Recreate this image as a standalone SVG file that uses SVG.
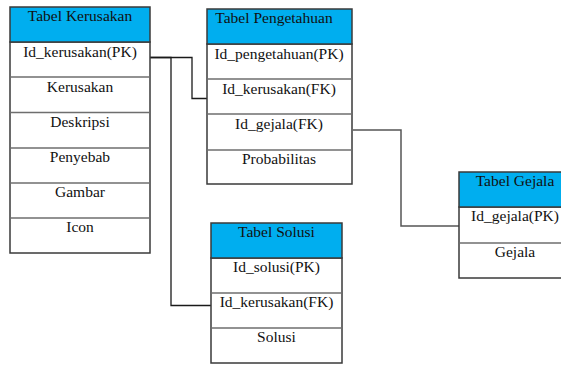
<svg xmlns="http://www.w3.org/2000/svg" width="561" height="365" viewBox="0 0 561 365">
  <style>
    .hdr { fill: #00aeef; stroke: #3a3a3a; stroke-width: 1.5; }
    .row { fill: #ffffff; stroke: #3a3a3a; stroke-width: 1.5; }
    .sep { stroke: #6e6e6e; stroke-width: 1.5; }
    .t { font-family: "Liberation Serif", "Times New Roman", serif; font-size: 15.5px; fill: #111; text-anchor: middle; }
    .link { fill: none; stroke: #1a1a1a; stroke-width: 1.3; }
    .link2 { fill: none; stroke: #555; stroke-width: 1.5; }
  </style>
  <rect width="561" height="365" fill="#ffffff"/>

  <!-- relationship lines -->
  <g id="connectors">
    <path class="link" d="M150,57.5 H192 V98.5 H208"/>
    <path class="link" d="M150,57.5 H171 V305.5 H211"/>
    <path class="link2" d="M353,130 H401 V226 H459"/>
  </g>

  <g id="tabel-kerusakan">
    <rect class="row" x="10" y="42" width="140" height="211"/>
    <rect class="hdr" x="10" y="7" width="140" height="35"/>
    <line class="sep" x1="10" y1="77" x2="150" y2="77"/>
    <line class="sep" x1="10" y1="112.5" x2="150" y2="112.5"/>
    <line class="sep" x1="10" y1="148" x2="150" y2="148"/>
    <line class="sep" x1="10" y1="183" x2="150" y2="183"/>
    <line class="sep" x1="10" y1="218" x2="150" y2="218"/>
    <text class="t" x="80" y="21">Tabel Kerusakan</text>
    <text class="t" x="80" y="57">Id_kerusakan(PK)</text>
    <text class="t" x="80" y="92">Kerusakan</text>
    <text class="t" x="80" y="127">Deskripsi</text>
    <text class="t" x="80" y="162">Penyebab</text>
    <text class="t" x="80" y="197">Gambar</text>
    <text class="t" x="80" y="232">Icon</text>
  </g>

  <g id="tabel-pengetahuan">
    <rect class="row" x="207" y="44" width="145" height="140"/>
    <rect class="hdr" x="207" y="9" width="145" height="35"/>
    <line class="sep" x1="207" y1="79" x2="352" y2="79"/>
    <line class="sep" x1="207" y1="114" x2="352" y2="114"/>
    <line class="sep" x1="207" y1="150" x2="352" y2="150"/>
    <text class="t" x="274" y="23">Tabel Pengetahuan</text>
    <text class="t" x="279" y="59">Id_pengetahuan(PK)</text>
    <text class="t" x="279" y="94">Id_kerusakan(FK)</text>
    <text class="t" x="279" y="129">Id_gejala(FK)</text>
    <text class="t" x="279" y="164">Probabilitas</text>
  </g>

  <g id="tabel-solusi">
    <rect class="row" x="211" y="258" width="131" height="105"/>
    <rect class="hdr" x="211" y="223" width="131" height="35"/>
    <line class="sep" x1="211" y1="293" x2="342" y2="293"/>
    <line class="sep" x1="211" y1="328" x2="342" y2="328"/>
    <text class="t" x="276.5" y="237">Tabel Solusi</text>
    <text class="t" x="276.5" y="272">Id_solusi(PK)</text>
    <text class="t" x="276.5" y="307">Id_kerusakan(FK)</text>
    <text class="t" x="276.5" y="342">Solusi</text>
  </g>

  <g id="tabel-gejala">
    <rect class="row" x="459" y="207" width="112" height="71"/>
    <rect class="hdr" x="459" y="172" width="112" height="35"/>
    <line class="sep" x1="459" y1="243" x2="571" y2="243"/>
    <text class="t" x="515" y="186">Tabel Gejala</text>
    <text class="t" x="515" y="221">Id_gejala(PK)</text>
    <text class="t" x="515" y="257">Gejala</text>
  </g>
</svg>
